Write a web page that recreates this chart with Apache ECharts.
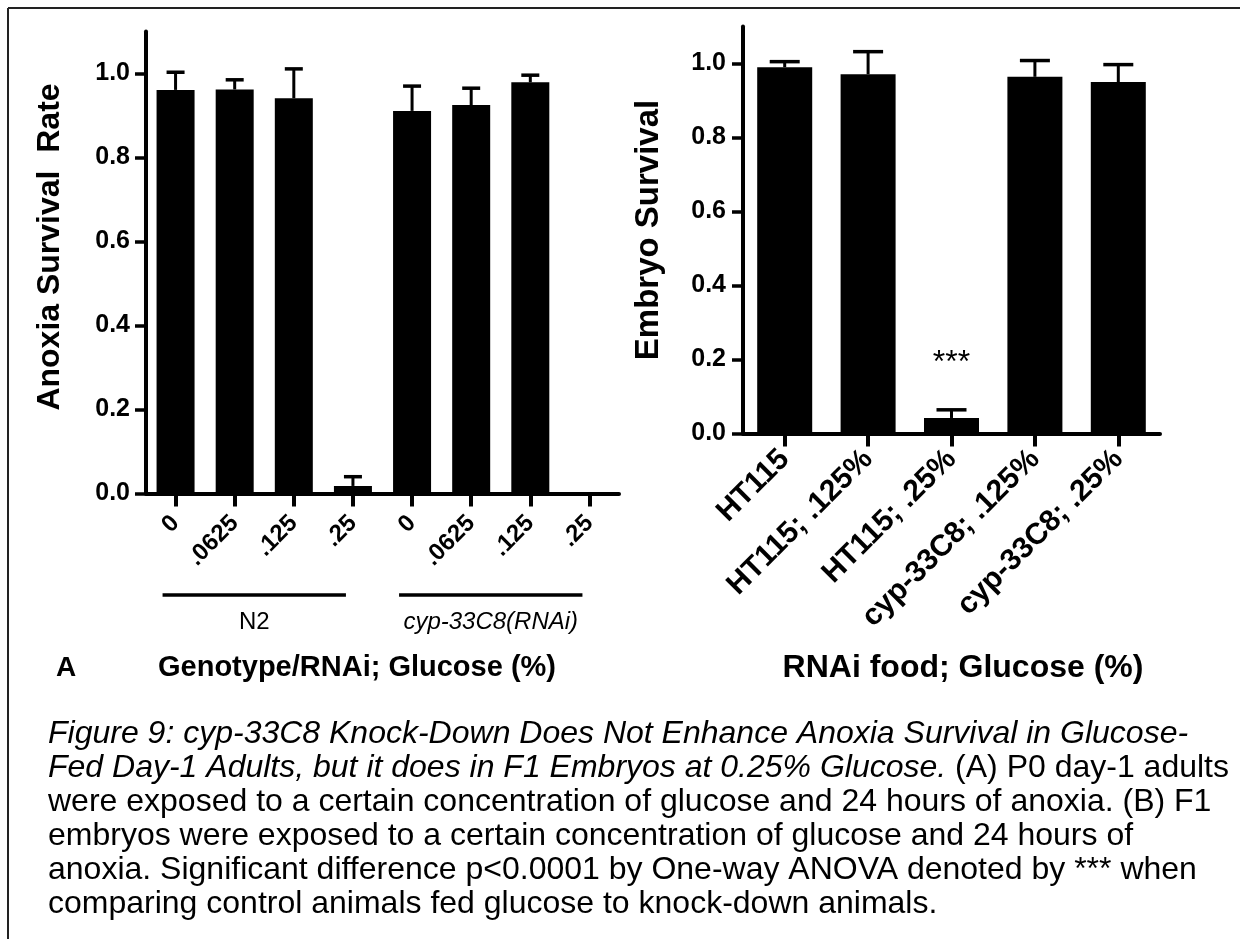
<!DOCTYPE html>
<html>
<head>
<meta charset="utf-8">
<script src="https://cdn.jsdelivr.net/npm/echarts@6/dist/echarts.min.js"></script>
<style>
html,body{margin:0;padding:0;background:#fff;}
#chart{width:1240px;height:939px;}
</style>
</head>
<body>
<div id="chart"></div>
<script>
// ---- Data ----
const leftCategories = ['0', '.0625', '.125', '.25', '0', '.0625', '.125', '.25'];
const leftMeans = [0.961, 0.962, 0.941, 0.018, 0.911, 0.925, 0.979, 0.0];
const leftErrors = [0.042, 0.023, 0.070, 0.022, 0.059, 0.040, 0.017, 0.0];
const leftGroups = ['N2', 'cyp-33C8(RNAi)'];
const leftGroupRanges = [[0, 3], [4, 7]];

const rightCategories = ['HT115', 'HT115; .125%', 'HT115; .25%', 'cyp-33C8; .125%', 'cyp-33C8; .25%'];
const rightMeans = [0.990, 0.971, 0.042, 0.964, 0.950];
const rightErrors = [0.015, 0.061, 0.022, 0.044, 0.047];
const rightSignificance = ['', '', '***', '', ''];
const significanceLevel = 0.19;

const yTickValues = [0, 0.2, 0.4, 0.6, 0.8, 1.0];

const leftYTitle = 'Anoxia Survival  Rate';
const rightYTitle = 'Embryo Survival';
const leftXTitle = 'Genotype/RNAi; Glucose (%)';
const rightXTitle = 'RNAi food; Glucose (%)';
const panelLetter = 'A';
const captionLines = [
  [{t: 'Figure 9: cyp-33C8 Knock-Down Does Not Enhance Anoxia Survival in Glucose-', i: true}],
  [{t: 'Fed Day-1 Adults, but it does in F1 Embryos at 0.25% Glucose.', i: true}, {t: ' (A) P0 day-1 adults', i: false}],
  [{t: 'were exposed to a certain concentration of glucose and 24 hours of anoxia. (B) F1', i: false}],
  [{t: 'embryos were exposed to a certain concentration of glucose and 24 hours of', i: false}],
  [{t: 'anoxia. Significant difference p<0.0001 by One-way ANOVA denoted by *** when', i: false}],
  [{t: 'comparing control animals fed glucose to knock-down animals.', i: false}]
];

// ---- Styling ----
const FONT = "'Liberation Sans', Arial, Helvetica, sans-serif";
const BLACK = '#000';

function errorRenderer(capHalf) {
  return function (params, api) {
    const idx = api.value(0), m = api.value(1), e = api.value(2);
    if (!(e > 0)) return null;
    const b = api.coord([idx, m]);
    const t = api.coord([idx, m + e]);
    return {
      type: 'group',
      children: [
        {type: 'line', shape: {x1: b[0], y1: b[1], x2: t[0], y2: t[1]}, style: {stroke: BLACK, lineWidth: 3}},
        {type: 'line', shape: {x1: t[0] - capHalf, y1: t[1], x2: t[0] + capHalf, y2: t[1]}, style: {stroke: BLACK, lineWidth: 3.5}}
      ]
    };
  };
}

function yAxisCfg(gridIndex, labelMargin) {
  return {
    type: 'value', gridIndex: gridIndex, min: 0, max: 1.1,
    splitLine: {show: false},
    axisLine: {show: true, lineStyle: {color: BLACK, width: 4}},
    axisTick: {show: true, length: 11, lineStyle: {color: BLACK, width: 3.5}, customValues: yTickValues},
    axisLabel: {
      customValues: yTickValues, margin: labelMargin, color: BLACK,
      fontFamily: FONT, fontWeight: 'bold', fontSize: 25,
      formatter: v => v.toFixed(1)
    }
  };
}

function xAxisCfg(gridIndex, cats, fontSize, margin) {
  return {
    type: 'category', gridIndex: gridIndex, data: cats,
    axisLine: {show: true, lineStyle: {color: BLACK, width: 4}},
    axisTick: {show: true, alignWithLabel: true, length: 13, lineStyle: {color: BLACK, width: 4}},
    axisLabel: {
      interval: 0, rotate: 45, margin: margin, color: BLACK,
      fontFamily: FONT, fontWeight: 'bold', fontSize: fontSize
    }
  };
}

const chart = echarts.init(document.getElementById('chart'), null, {renderer: 'canvas'});

const captionGraphics = captionLines.map((parts, k) => ({
  type: 'text', x: 48, y: 734 + 34 * k,
  style: {
    text: parts.map(p => '{' + (p.i ? 'it' : 'n') + '|' + p.t + '}').join(''),
    rich: {
      it: {fontFamily: FONT, fontSize: 32, fontStyle: 'italic', fill: BLACK},
      n: {fontFamily: FONT, fontSize: 32, fill: BLACK}
    },
    verticalAlign: 'middle', align: 'left'
  }
}));

const option = {
  backgroundColor: '#fff',
  animation: false,
  grid: [
    {left: 146, top: 31.5, width: 473, height: 462},
    {left: 743, top: 26.5, width: 417, height: 407}
  ],
  xAxis: [
    xAxisCfg(0, leftCategories, 24, 26),
    xAxisCfg(1, rightCategories, 30, 21)
  ],
  yAxis: [
    yAxisCfg(0, 16),
    yAxisCfg(1, 17)
  ],
  series: [
    {type: 'bar', xAxisIndex: 0, yAxisIndex: 0, data: leftMeans, barWidth: 38,
     itemStyle: {color: BLACK}, z: 2},
    {type: 'custom', xAxisIndex: 0, yAxisIndex: 0, renderItem: errorRenderer(9),
     data: leftMeans.map((m, i) => [i, m, leftErrors[i]]), encode: {x: 0, y: 1}, z: 3},
    {type: 'bar', xAxisIndex: 1, yAxisIndex: 1, data: rightMeans, barWidth: 55,
     itemStyle: {color: BLACK}, z: 2},
    {type: 'custom', xAxisIndex: 1, yAxisIndex: 1, renderItem: errorRenderer(15),
     data: rightMeans.map((m, i) => [i, m, rightErrors[i]]), encode: {x: 0, y: 1}, z: 3},
    {type: 'custom', xAxisIndex: 1, yAxisIndex: 1,
     data: rightSignificance.map((s, i) => [i, significanceLevel, s]).filter(d => d[2]),
     encode: {x: 0, y: 1},
     renderItem: function (params, api) {
       const p = api.coord([api.value(0), api.value(1)]);
       return {type: 'text', x: p[0], y: p[1],
         style: {text: rightSignificance[api.value(0)], fontFamily: FONT, fontSize: 32, fill: BLACK,
                 align: 'center', verticalAlign: 'middle'}};
     }, z: 4}
  ],
  graphic: []
};

chart.setOption(option);

// Group underline positions derived from the category axis
const groupGraphics = [];
leftGroupRanges.forEach((r, g) => {
  const a = chart.convertToPixel({xAxisIndex: 0}, r[0]);
  const b = chart.convertToPixel({xAxisIndex: 0}, r[1]);
  groupGraphics.push({type: 'line', shape: {x1: a - 13, y1: 595, x2: b - 7, y2: 595},
    style: {stroke: BLACK, lineWidth: 3.5}});
  groupGraphics.push({type: 'text', x: (a + b) / 2 - 10, y: 622,
    style: {text: leftGroups[g], fontFamily: FONT, fontSize: 24, fill: BLACK,
            fontStyle: g === 1 ? 'italic' : 'normal', align: 'center', verticalAlign: 'middle'}});
});

chart.setOption({
  graphic: [
    {type: 'line', shape: {x1: 8, y1: 8, x2: 1240, y2: 8}, style: {stroke: '#222', lineWidth: 2}},
    {type: 'line', shape: {x1: 8, y1: 8, x2: 8, y2: 939}, style: {stroke: '#222', lineWidth: 2}},
    {type: 'text', x: 50, y: 247, rotation: Math.PI / 2,
     style: {text: leftYTitle, fontFamily: FONT, fontSize: 32, fontWeight: 'bold', fill: BLACK, align: 'center', verticalAlign: 'middle'}},
    {type: 'text', x: 649, y: 230, rotation: Math.PI / 2,
     style: {text: rightYTitle, fontFamily: FONT, fontSize: 33, fontWeight: 'bold', fill: BLACK, align: 'center', verticalAlign: 'middle'}},
    {type: 'text', x: 66, y: 668,
     style: {text: panelLetter, fontFamily: FONT, fontSize: 28, fontWeight: 'bold', fill: BLACK, align: 'center', verticalAlign: 'middle'}},
    {type: 'text', x: 357, y: 668,
     style: {text: leftXTitle, fontFamily: FONT, fontSize: 29, fontWeight: 'bold', fill: BLACK, align: 'center', verticalAlign: 'middle'}},
    {type: 'text', x: 963, y: 668,
     style: {text: rightXTitle, fontFamily: FONT, fontSize: 32, fontWeight: 'bold', fill: BLACK, align: 'center', verticalAlign: 'middle'}}
  ].concat(groupGraphics).concat(captionGraphics)
});
</script>
</body>
</html>
